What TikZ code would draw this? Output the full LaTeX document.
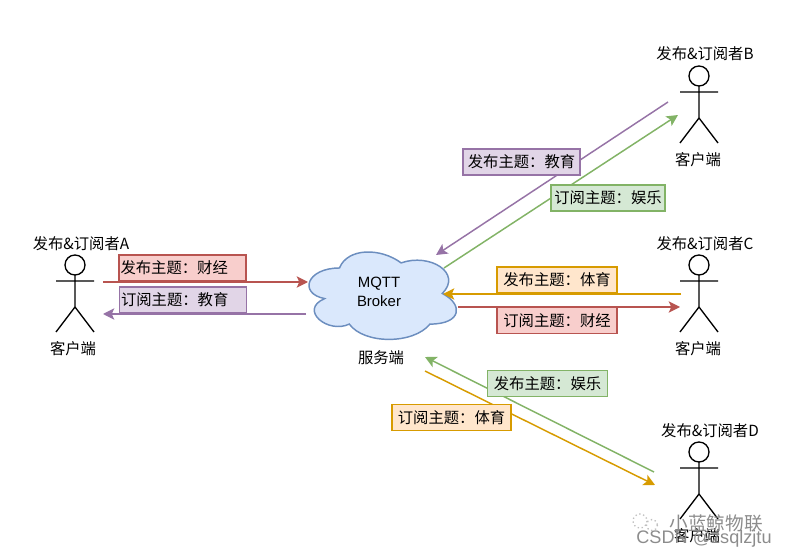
\documentclass[tikz,border=0pt]{standalone}
\usepackage{fontspec}
\setmainfont{Noto Sans CJK SC}
\newfontfamily\latin{Liberation Sans}
\usetikzlibrary{arrows.meta}

\definecolor{redline}{HTML}{B85450}
\definecolor{redfill}{HTML}{F8CECC}
\definecolor{purpleline}{HTML}{9673A6}
\definecolor{purplefill}{HTML}{E1D5E7}
\definecolor{greenline}{HTML}{82B366}
\definecolor{greenfill}{HTML}{D5E8D4}
\definecolor{yellowline}{HTML}{D79B00}
\definecolor{yellowfill}{HTML}{FFE6CC}
\definecolor{cloudline}{HTML}{6C8EBF}
\definecolor{cloudfill}{HTML}{DAE8FC}

\tikzset{
	label text/.style={font=\fontsize{11.5pt}{13pt}\selectfont,inner sep=0pt},
	topic/.style={label text,draw=#1line,fill=#1fill,line width=1.1pt,minimum height=19.5pt,minimum width=90pt},
	topic left/.style={text width=93pt,align=left,inner xsep=1pt},
	flow/.style={draw=#1line,line width=1.1pt,-{Stealth[length=8.5pt,width=8.5pt,inset=2pt]}},
	stick/.pic={
		\draw[line width=1pt] (0,-16) circle (10);
		\draw[line width=1pt] (0,-6) -- (0,26) (-19,0) -- (19,0) (-19,51) -- (0,26) -- (19,51);
	}
}

\begin{document}
\begin{tikzpicture}[x=0.75pt,y=-0.75pt]
	\useasboundingbox (0,0) rectangle (789,559);

	\coordinate (aOut) at (103,282);
	\coordinate (aIn) at (103,314);
	\coordinate (brokerA1) at (308,282);
	\coordinate (brokerA2) at (306,314);
	\coordinate (bOut) at (668,102);
	\coordinate (bIn) at (678,115);
	\coordinate (brokerB1) at (436,255);
	\coordinate (brokerB2) at (444,268);
	\coordinate (cOut) at (681,294);
	\coordinate (cIn) at (680,307);
	\coordinate (brokerC1) at (443,294);
	\coordinate (brokerC2) at (458,307);
	\coordinate (dOut) at (654,472);
	\coordinate (dIn) at (655,485);
	\coordinate (brokerD1) at (425,357);
	\coordinate (brokerD2) at (425,371);

	\begin{scope}[shift={(298.3,242.5)},x=123.4pt,y=-76.5pt]
		\draw[draw=cloudline,fill=cloudfill,line width=1.1pt] (.25,.25)
		.. controls (.05,.25) and (0,.5) .. (.16,.55)
		.. controls (0,.66) and (.18,.9) .. (.31,.8)
		.. controls (.4,1) and (.7,1) .. (.8,.8)
		.. controls (1,.8) and (1,.6) .. (.875,.5)
		.. controls (1,.3) and (.8,.1) .. (.625,.2)
		.. controls (.5,.05) and (.3,.05) .. (.25,.25) -- cycle;
	\end{scope}
	\node[align=center,font=\latin\fontsize{11.2pt}{14.2pt}\selectfont,inner sep=0pt] (broker) at (379,292) {MQTT\\Broker};
	\node[label text] (brokerName) at (381,358) {服务端};

	\draw[flow=red] (aOut) -- (brokerA1);
	\draw[flow=purple] (brokerA2) -- (aIn);
	\draw[flow=purple] (bOut) -- (brokerB1);
	\draw[flow=green] (brokerB2) -- (bIn);
	\draw[flow=yellow] (cOut) -- (brokerC1);
	\draw[flow=red] (brokerC2) -- (cIn);
	\draw[flow=green] (dOut) -- (brokerD1);
	\draw[flow=yellow] (brokerD2) -- (dIn);

	\node[topic=red,topic left] (pubA) at (182.5,268) {发布主题：财经};
	\node[topic=purple,topic left] (subA) at (183,300) {订阅主题：教育};
	\node[topic=purple,minimum width=87.75pt] (pubB) at (521.5,162) {发布主题：教育};
	\node[topic=green,minimum width=85.5pt] (subB) at (608,198) {订阅主题：娱乐};
	\node[topic=yellow] (pubC) at (557,280) {发布主题：体育};
	\node[topic=red] (subC) at (557,320.5) {订阅主题：财经};
	\node[topic=green] (pubD) at (547.5,383.5) {发布主题：娱乐};
	\node[topic=yellow,minimum width=89pt] (subD) at (451.5,417.5) {订阅主题：体育};

	\pic at (75,281) {stick};
	\pic at (699,92) {stick};
	\pic at (699,281) {stick};
	\pic at (699,468) {stick};

	\node[label text] (nameA) at (81,244) {发布\&订阅者A};
	\node[label text] (clientA) at (73,349) {客户端};
	\node[label text] (nameB) at (705,54) {发布\&订阅者B};
	\node[label text] (clientB) at (698,160) {客户端};
	\node[label text] (nameC) at (705,244) {发布\&订阅者C};
	\node[label text] (clientC) at (698,349) {客户端};
	\node[label text] (nameD) at (710,431) {发布\&订阅者D};
	\node[label text] (clientD) at (697,536) {客户端};

	\draw[black!25,dotted,line width=1pt] (640,521) circle (7) (652,525) circle (5.5);
	\node[font=\fontsize{14pt}{16pt}\selectfont,text=black!45,inner sep=0pt] (mark) at (716,523) {小蓝鲸物联};
	\node[font=\latin\fontsize{13.6pt}{16pt}\selectfont,text=black!45,inner sep=0pt] (csdn) at (704,539) {CSDN @zsqlzjtu};
\end{tikzpicture}
\end{document}
